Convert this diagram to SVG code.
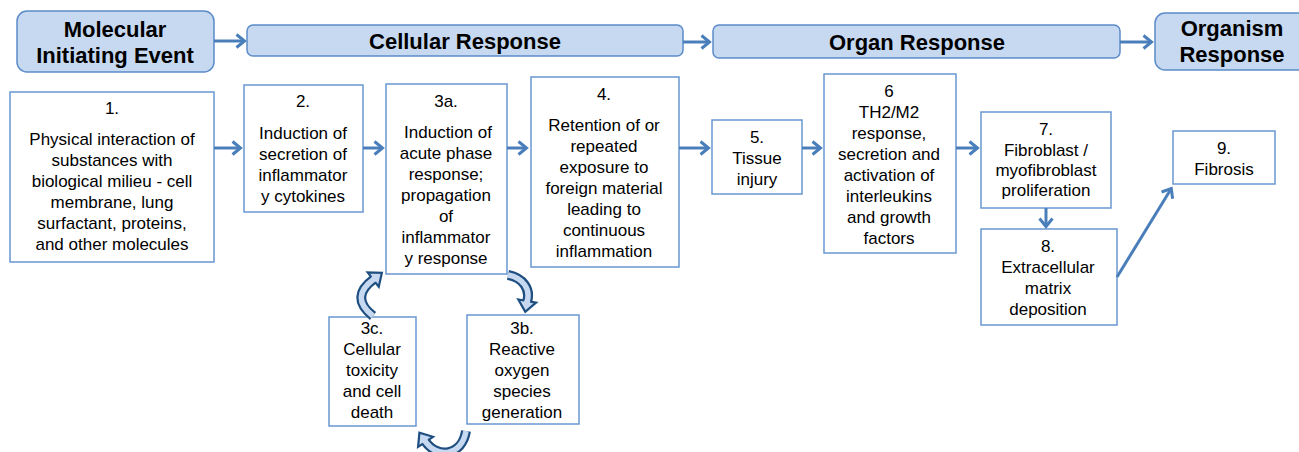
<svg xmlns="http://www.w3.org/2000/svg" width="1299" height="452" viewBox="0 0 1299 452">
<style>
.hdr{fill:#c6d9f1;stroke:#5b8cc9;stroke-width:1.5}
.ht{font-family:"Liberation Sans",Arial,sans-serif;font-weight:bold;font-size:22px;fill:#000;text-anchor:middle}
.box{fill:#fff;stroke:#6a98d0;stroke-width:1.5}
.t{font-family:"Liberation Sans",Arial,sans-serif;font-size:17px;fill:#000;text-anchor:middle}
.con{fill:none;stroke:#4a7ebb;stroke-width:3;marker-end:url(#ah)}
.bo{fill:none;stroke:#1f4e80;stroke-width:10}
.bi{fill:none;stroke:#c6d9f1;stroke-width:5.5}
.bh{fill:#c6d9f1;stroke:#1f4e80;stroke-width:2.2;stroke-linejoin:miter}
</style>
<defs>
<marker id="ah" markerUnits="userSpaceOnUse" markerWidth="14" markerHeight="16" viewBox="0 0 14 16" refX="9" refY="8" orient="auto">
<path d="M1.5,1.5 L9.5,8 L1.5,14.5" fill="none" stroke="#4a7ebb" stroke-width="3"/>
</marker>
<path id="head" d="M-1,-3.1 L-1,-9 L10,0 L-1,9 L-1,3.1"/>
</defs>

<g id="hdr-mie">
<rect class="hdr" x="17" y="11" width="197" height="61" rx="10"/>
<text class="ht" x="115" y="37">Molecular</text>
<text class="ht" x="115" y="63">Initiating Event</text>
</g>
<g id="hdr-cell">
<rect class="hdr" x="247" y="25" width="436" height="31" rx="6"/>
<text class="ht" x="465" y="49">Cellular Response</text>
</g>
<g id="hdr-organ">
<rect class="hdr" x="713" y="25" width="407" height="33" rx="6"/>
<text class="ht" x="917" y="50">Organ Response</text>
</g>
<g id="hdr-organism">
<rect class="hdr" x="1155" y="13" width="156" height="57" rx="10"/>
<text class="ht" x="1232" y="36">Organism</text>
<text class="ht" x="1232" y="62">Response</text>
</g>

<g id="n1">
<rect class="box" x="10" y="92" width="204" height="170"/>
<text class="t" x="112" y="114">1.</text>
<text class="t" x="112" y="145">Physical interaction of</text>
<text class="t" x="112" y="166">substances with</text>
<text class="t" x="112" y="187">biological milieu - cell</text>
<text class="t" x="112" y="208">membrane, lung</text>
<text class="t" x="112" y="229">surfactant, proteins,</text>
<text class="t" x="112" y="250">and other molecules</text>
</g>
<g id="n2">
<rect class="box" x="244" y="85" width="119" height="127"/>
<text class="t" x="303" y="107">2.</text>
<text class="t" x="303" y="139">Induction of</text>
<text class="t" x="303" y="160">secretion of</text>
<text class="t" x="303" y="181">inflammator</text>
<text class="t" x="303" y="202">y cytokines</text>
</g>
<g id="n3a">
<rect class="box" x="386" y="84" width="121" height="190"/>
<text class="t" x="446" y="107">3a.</text>
<text class="t" x="448" y="138">Induction of</text>
<text class="t" x="446" y="159">acute phase</text>
<text class="t" x="446" y="180">response;</text>
<text class="t" x="446" y="201">propagation</text>
<text class="t" x="446" y="222">of</text>
<text class="t" x="446" y="243">inflammator</text>
<text class="t" x="446" y="264">y response</text>
</g>
<g id="n4">
<rect class="box" x="531" y="77" width="148" height="190"/>
<text class="t" x="604" y="100">4.</text>
<text class="t" x="604" y="131">Retention of or</text>
<text class="t" x="604" y="152">repeated</text>
<text class="t" x="604" y="173">exposure to</text>
<text class="t" x="604" y="194">foreign material</text>
<text class="t" x="604" y="215">leading to</text>
<text class="t" x="604" y="236">continuous</text>
<text class="t" x="604" y="257">inflammation</text>
</g>
<g id="n5">
<rect class="box" x="712" y="120" width="90" height="74"/>
<text class="t" x="757" y="143">5.</text>
<text class="t" x="757" y="164">Tissue</text>
<text class="t" x="757" y="185">injury</text>
</g>
<g id="n6">
<rect class="box" x="824" y="74" width="132" height="179"/>
<text class="t" x="889" y="97">6</text>
<text class="t" x="889" y="118">TH2/M2</text>
<text class="t" x="889" y="139">response,</text>
<text class="t" x="889" y="160">secretion and</text>
<text class="t" x="889" y="181">activation of</text>
<text class="t" x="889" y="202">interleukins</text>
<text class="t" x="889" y="223">and growth</text>
<text class="t" x="889" y="244">factors</text>
</g>
<g id="n7">
<rect class="box" x="981" y="112" width="130" height="96"/>
<text class="t" x="1046" y="135">7.</text>
<text class="t" x="1046" y="156">Fibroblast /</text>
<text class="t" x="1046" y="176">myofibroblast</text>
<text class="t" x="1046" y="196">proliferation</text>
</g>
<g id="n8">
<rect class="box" x="981" y="229" width="136" height="96"/>
<text class="t" x="1048" y="252">8.</text>
<text class="t" x="1048" y="273">Extracellular</text>
<text class="t" x="1048" y="294">matrix</text>
<text class="t" x="1048" y="315">deposition</text>
</g>
<g id="n9">
<rect class="box" x="1173" y="131" width="102" height="53"/>
<text class="t" x="1224" y="154">9.</text>
<text class="t" x="1224" y="175">Fibrosis</text>
</g>
<g id="n3c">
<rect class="box" x="329" y="317" width="87" height="109"/>
<text class="t" x="372" y="334">3c.</text>
<text class="t" x="372" y="355">Cellular</text>
<text class="t" x="372" y="376">toxicity</text>
<text class="t" x="372" y="397">and cell</text>
<text class="t" x="372" y="418">death</text>
</g>
<g id="n3b">
<rect class="box" x="467" y="315" width="112" height="109"/>
<text class="t" x="522" y="334">3b.</text>
<text class="t" x="522" y="355">Reactive</text>
<text class="t" x="522" y="376">oxygen</text>
<text class="t" x="522" y="397">species</text>
<text class="t" x="522" y="418">generation</text>
</g>

<g id="connectors">
<path class="con" d="M214,41 L244,41"/>
<path class="con" d="M683,42 L709,42"/>
<path class="con" d="M1120,42 L1151,42"/>
<path class="con" d="M214,148 L240,148"/>
<path class="con" d="M363,148 L382,148"/>
<path class="con" d="M507,148 L526,148"/>
<path class="con" d="M679,148 L708,148"/>
<path class="con" d="M802,148 L820,148"/>
<path class="con" d="M956,148 L977,148"/>
<path class="con" d="M1046,208 L1046,226"/>
<path class="con" d="M1117,277 L1171,189"/>
<g id="cyc-left">
<path class="bo" d="M373,316 Q349,297 374,279"/>
<path class="bi" d="M373,316 Q349,297 374,279"/>
<use href="#head" class="bh" transform="translate(374,279) rotate(-38)"/>
</g>
<g id="cyc-right">
<path class="bo" d="M508,275 C523,278 531,289 527,302"/>
<path class="bi" d="M508,275 C523,278 531,289 527,302"/>
<use href="#head" class="bh" transform="translate(527,302) rotate(100)"/>
</g>
<g id="cyc-bottom">
<path class="bo" d="M466,431 C462,456 437,459 425,441"/>
<path class="bi" d="M466,431 C462,456 437,459 425,441"/>
<use href="#head" class="bh" transform="translate(425,441) rotate(-124)"/>
</g>
</g>
</svg>
